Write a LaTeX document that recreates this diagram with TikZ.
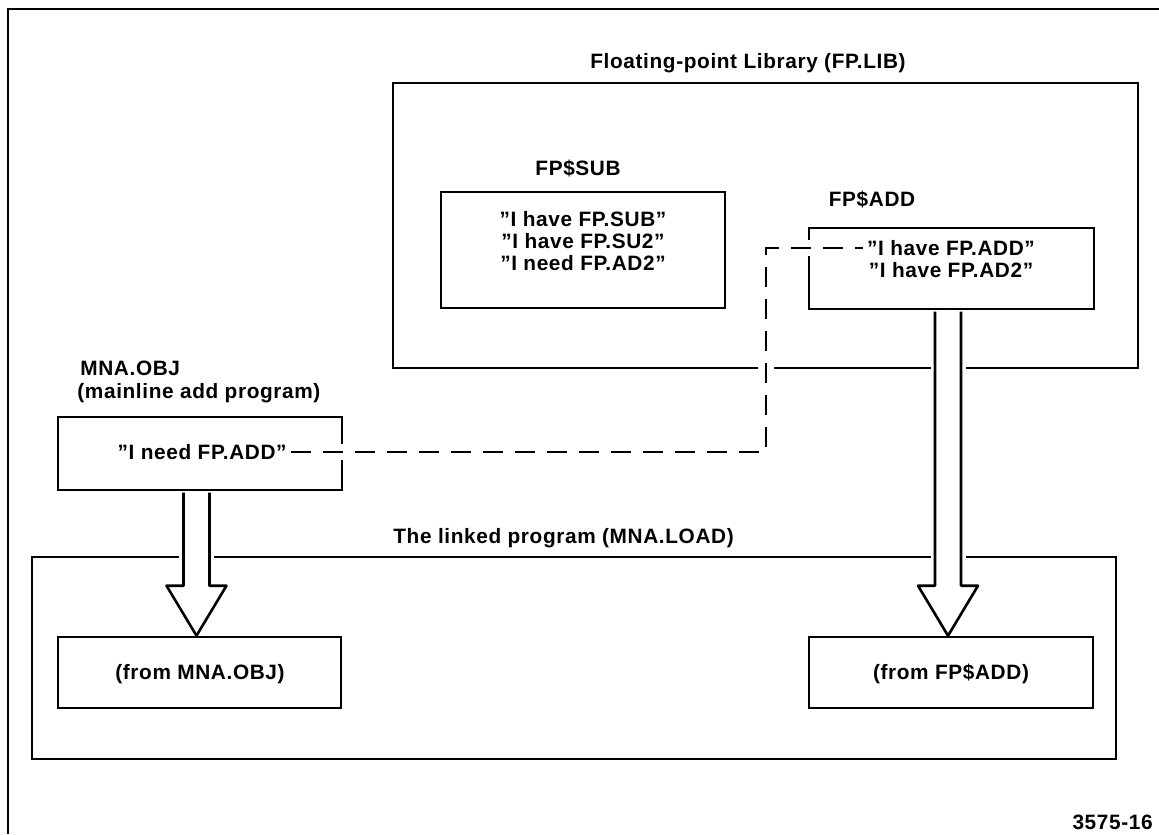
\documentclass[tikz,border=0pt]{standalone}
\usepackage{fontspec}
\setmainfont{Liberation Sans}[LetterSpace=3]
\usetikzlibrary{fit,calc}

% hollow block arrow from the bottom of one box to the top of another
\newcommand\fatdown[2]{%
  \path let \p1=(#1.south), \p2=(#2.north), \n1={\x2-1.5pt} in
    coordinate (fa-l0) at (\n1-6.5pt,\y1-0.65pt)
    coordinate (fa-l1) at (\n1-6.5pt,\y2+25pt)
    coordinate (fa-l2) at (\n1-15pt,\y2+25pt)
    coordinate (fa-t)  at (\n1,\y2)
    coordinate (fa-r2) at (\n1+15pt,\y2+25pt)
    coordinate (fa-r1) at (\n1+6.5pt,\y2+25pt)
    coordinate (fa-r0) at (\n1+6.5pt,\y1-0.65pt);
  \draw[white, line width=4.5pt] (fa-l0) -- (fa-l1) (fa-r0) -- (fa-r1);
  \draw[fat] (fa-l0) -- (fa-l1) -- (fa-l2) -- (fa-t) -- (fa-r2) -- (fa-r1) -- (fa-r0);}

\begin{document}
\begin{tikzpicture}[x=0.5pt,y=-0.5pt,
  every node/.style={font=\fontsize{10.4}{10.8}\selectfont\bfseries, inner sep=2pt},
  frame/.style={line width=1pt},
  box/.style={draw, line width=1.3pt, inner sep=0pt},
  link/.style={line width=1.3pt, dash pattern=on 10pt off 6pt,
    preaction={draw=white, solid, line width=8pt}},
  fat/.style={line width=1.3pt, line join=round, fill=white}]

\useasboundingbox (0,0) rectangle (1159,834);

% page frame (top and left rules)
\draw[frame] (1159,9) -- (8,9) -- (8,834);

% floating-point library and its modules
\node (libtitle) at (748,63) {Floating-point Library (FP.LIB)};
\node[box, fit={(393,83) (1138,368)}] (fplib) {};

\node (sublbl) at (578,169) {FP\$SUB};
\node[box, fit={(441,192) (725,308)}] (fpsub) {};
\node[align=center] (subtxt) at (583,241)
  {”I have FP.SUB”\\”I have FP.SU2”\\”I need FP.AD2”};

\node (addlbl) at (872,200) {FP\$ADD};
\node[box, fit={(809,228) (1094,309)}] (fpadd) {};
\node (haveadd) at (951,248) {”I have FP.ADD”};
\node (havead2) at (951,270) {”I have FP.AD2”};

% mainline object module
\node[anchor=west] (mnalbl) at (76,368) {MNA.OBJ};
\node[anchor=west] (mnadesc) at (73,393) {(mainline add program)};
\node[box, fit={(58,417) (342,490)}] (mna) {};
\node[anchor=east] (needadd) at (291,452) {”I need FP.ADD”};

% linked program
\node[anchor=west] (linklbl) at (389,538) {The linked program (MNA.LOAD)};
\node[box, fit={(32,557) (1116,759)}] (load) {};

% reference resolved by the library
\coordinate (jog) at (766,0);
\draw[link] (needadd.east) -- (needadd.east -| jog) -- (haveadd.west -| jog) -- (haveadd.west);

% target sections of the linked program
\node[box, fit={(58,637) (341,708)}] (frommnabox) {};
\node (frommna) at (200,674) {(from MNA.OBJ)};
\node[box, fit={(809,637) (1093,708)}] (fromaddbox) {};
\node (fromadd) at (951,674) {(from FP\$ADD)};
\fatdown{mna}{frommnabox}
\fatdown{fpadd}{fromaddbox}

\node[anchor=east] (fignum) at (1157,822) {3575-16};
\end{tikzpicture}
\end{document}
